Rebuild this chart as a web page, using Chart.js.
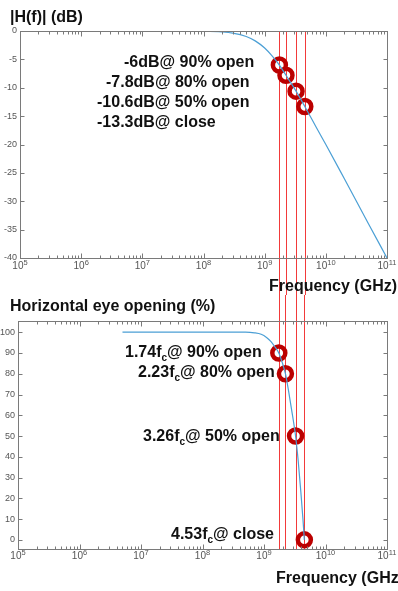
<!DOCTYPE html>
<html>
<head>
<meta charset="utf-8">
<script src="https://cdn.jsdelivr.net/npm/chart.js@4.4.1/dist/chart.umd.min.js"></script>
<style>
  html, body { margin: 0; padding: 0; background: #fff; }
  .box { position: relative; width: 398px; }
  canvas { display: block; }
</style>
</head>
<body>
<div class="box" style="height:295px"><canvas id="gain"></canvas></div>
<div class="box" style="height:296px"><canvas id="eye"></canvas></div>
<script>
// |H(f)| curve
const freqGain = [1e5, 1e6, 1e7, 5e7, 1e8, 2e8, 3e8, 5e8, 7e8, 1e9, 1.3e9, 1.74e9, 2.23e9, 3.26e9, 4.53e9, 7e9, 1e10, 2e10, 5e10, 1e11];
const gainDb   = [0, 0, 0, -0.01, -0.04, -0.17, -0.37, -0.97, -1.74, -3.0, -4.3, -6.0, -7.8, -10.6, -13.3, -17.0, -20.0, -26.0, -34.0, -40.0];

// horizontal eye opening curve
const freqEye = [5e6, 1e7, 1e8, 3e8, 5e8, 7e8, 9e8, 1.1e9, 1.3e9, 1.5e9, 1.74e9, 2.0e9, 2.23e9, 2.5e9, 2.8e9, 3.26e9, 3.6e9, 4.0e9, 4.3e9, 4.53e9];
const eyePct  = [100, 100, 100, 100, 100, 99.7, 99, 97.5, 95.5, 93, 90, 85, 80, 72, 63, 50, 38, 22, 10, 0];

// marked frequencies (red lines + circles)
const markFreq = [1.74e9, 2.23e9, 3.26e9, 4.53e9];
const markDb   = [-6, -7.8, -10.6, -13.3];
const markPct  = [90, 80, 50, 0];

const gainNotes = ['-6dB@ 90% open', '-7.8dB@ 80% open', '-10.6dB@ 50% open', '-13.3dB@ close'];
const eyeNotes  = [['1.74', '@ 90% open'], ['2.23', '@ 80% open'], ['3.26', '@ 50% open'], ['4.53', '@ close']];

const decades   = [1e5, 1e6, 1e7, 1e8, 1e9, 1e10, 1e11];
const decExp    = ['5', '6', '7', '8', '9', '10', '11'];
const gainTicks = [0, -5, -10, -15, -20, -25, -30, -35, -40];
const eyeTicks  = [0, 10, 20, 30, 40, 50, 60, 70, 80, 90, 100];

const FONT = 'Arial, "Liberation Sans", sans-serif';

function line(ctx, x1, y1, x2, y2) {
  ctx.beginPath(); ctx.moveTo(x1, y1); ctx.lineTo(x2, y2); ctx.stroke();
}

// red vertical lines, running out of the plot so both panels look joined
const redLines = {
  id: 'redLines',
  beforeDatasetsDraw(chart, args, o) {
    const {ctx, chartArea: a, scales: {x}} = chart;
    ctx.save();
    ctx.strokeStyle = '#f23a3a';
    ctx.lineWidth = 1;
    markFreq.forEach(f => {
      const px = Math.round(x.getPixelForValue(f)) + 0.5;
      line(ctx, px, o.top ? a.top : 0, px, o.top ? chart.height : a.bottom);
    });
    ctx.restore();
  }
};

// matlab style box with inward ticks + 10^n labels
const frame = {
  id: 'frame',
  afterDraw(chart, args, o) {
    const {ctx, chartArea: a, scales: {x, y}} = chart;
    ctx.save();
    ctx.strokeStyle = '#7a7a7a';
    ctx.lineWidth = 1;
    const L = Math.round(a.left) + 0.5, R = Math.round(a.right) + 0.5;
    const T = Math.round(a.top) + 0.5, B = Math.round(a.bottom) + 0.5;
    ctx.strokeRect(L, T, R - L, B - T);
    for (let e = 5; e <= 11; e++) {
      for (let m = 1; m < 10; m++) {
        const v = m * Math.pow(10, e);
        if (v > 1e11) break;
        const px = Math.round(x.getPixelForValue(v)) + 0.5;
        const len = m === 1 ? 5 : 3;
        line(ctx, px, B, px, B - len);
        line(ctx, px, T, px, T + len);
      }
    }
    o.ticks.forEach(v => {
      const py = Math.round(y.getPixelForValue(v)) + 0.5;
      line(ctx, L, py, L + 4, py);
      line(ctx, R, py, R - 4, py);
    });
    // decade labels
    ctx.fillStyle = '#555';
    ctx.textBaseline = 'middle';
    decades.forEach((v, i) => {
      const px = x.getPixelForValue(v);
      ctx.font = '10px ' + FONT;
      const w1 = ctx.measureText('10').width;
      ctx.font = '7.5px ' + FONT;
      const w2 = ctx.measureText(decExp[i]).width;
      const x0 = px - (w1 + w2) / 2;
      ctx.font = '10px ' + FONT;
      ctx.fillText('10', x0, B + o.labelDy);
      ctx.font = '7.5px ' + FONT;
      ctx.fillText(decExp[i], x0 + w1, B + o.labelDy - 4);
    });
    ctx.restore();
  }
};

// titles and notes
const texts = {
  id: 'texts',
  afterDraw(chart, args, o) {
    const {ctx, chartArea: a} = chart;
    ctx.save();
    ctx.fillStyle = '#111';
    ctx.textBaseline = 'middle';
    const big = 'bold 16px ' + FONT;
    ctx.font = big;
    ctx.fillText(o.title, 10, o.titleY);
    ctx.fillText('Frequency (GHz)', a.right - o.xTitleDx, o.xTitleY);
    o.notes.forEach((n, i) => {
      const ny = o.noteY[i];
      const nx = o.noteX[i];
      ctx.font = big;
      if (typeof n === 'string') {
        ctx.fillText(n, nx, ny);
      } else {
        ctx.fillText(n[0] + 'f', nx, ny);
        let w = ctx.measureText(n[0] + 'f').width;
        ctx.font = 'bold 10px ' + FONT;
        ctx.fillText('c', nx + w, ny + 5);
        w += ctx.measureText('c').width;
        ctx.font = big;
        ctx.fillText(n[1], nx + w, ny);
      }
    });
    ctx.restore();
  }
};

function xScale(h) {
  return {
    type: 'logarithmic',
    min: 1e5, max: 1e11,
    grid: { display: false, drawTicks: false },
    border: { display: false },
    afterBuildTicks: s => { s.ticks = decades.map(v => ({value: v})); },
    afterFit: s => { s.height = h; },
    ticks: { display: false }
  };
}

function yScale(min, max, ticks, w) {
  return {
    min, max,
    grid: { display: false, drawTicks: false },
    border: { display: false },
    afterBuildTicks: s => { s.ticks = ticks.map(v => ({value: v})); },
    afterFit: s => { s.width = w; },
    ticks: { color: '#555', padding: 3, font: { family: FONT, size: 9 } }
  };
}

const curveStyle = {
  borderColor: '#4b9fd5', borderWidth: 1.2, pointRadius: 0,
  cubicInterpolationMode: 'monotone', fill: false
};
const markStyle = {
  showLine: false, pointRadius: 6.5, pointBorderWidth: 4.5,
  pointBorderColor: '#bb0000', pointBackgroundColor: 'rgba(0,0,0,0)', clip: false
};

new Chart(document.getElementById('gain'), {
  type: 'line',
  data: {
    datasets: [
      Object.assign({ data: freqGain.map((f, i) => ({x: f, y: gainDb[i]})) }, curveStyle),
      Object.assign({ data: markFreq.map((f, i) => ({x: f, y: markDb[i]})) }, markStyle)
    ]
  },
  options: {
    responsive: true, maintainAspectRatio: false, animation: false,
    layout: { padding: { top: 31, right: 10, left: 0, bottom: 0 } },
    scales: { x: xScale(37), y: yScale(-40, 0, gainTicks, 20) },
    plugins: {
      legend: { display: false }, tooltip: { enabled: false },
      redLines: { top: true },
      frame: { ticks: gainTicks, labelDy: 8 },
      texts: {
        title: '|H(f)| (dB)', titleY: 18, xTitleDx: 118, xTitleY: 287,
        notes: gainNotes, noteX: [124, 106, 97, 97], noteY: [63, 83, 103, 123]
      }
    }
  },
  plugins: [redLines, frame, texts]
});

new Chart(document.getElementById('eye'), {
  type: 'line',
  data: {
    datasets: [
      Object.assign({ data: freqEye.map((f, i) => ({x: f, y: eyePct[i]})) }, curveStyle),
      Object.assign({ data: markFreq.map((f, i) => ({x: f, y: markPct[i]})) }, markStyle)
    ]
  },
  options: {
    responsive: true, maintainAspectRatio: false, animation: false,
    layout: { padding: { top: 26, right: 9, left: 0, bottom: 0 } },
    scales: { x: xScale(42), y: yScale(-4.4, 105.4, eyeTicks, 18) },
    plugins: {
      legend: { display: false }, tooltip: { enabled: false },
      redLines: { top: false },
      frame: { ticks: eyeTicks, labelDy: 7 },
      texts: {
        title: 'Horizontal eye opening (%)', titleY: 12, xTitleDx: 111, xTitleY: 284,
        notes: eyeNotes, noteX: [125, 138, 143, 171], noteY: [58, 78, 142, 240]
      }
    }
  },
  plugins: [redLines, frame, texts]
});
</script>
</body>
</html>
